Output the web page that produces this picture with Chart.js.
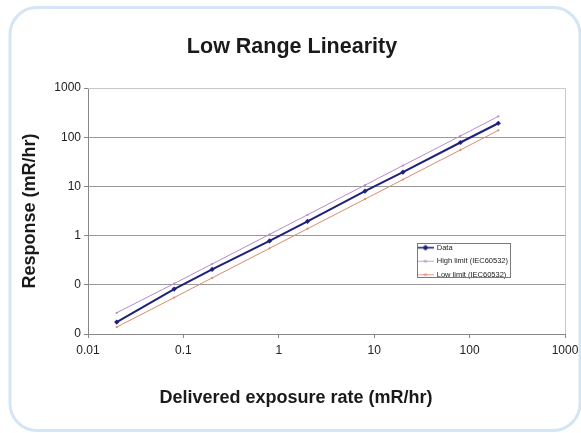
<!DOCTYPE html>
<html>
<head>
<meta charset="utf-8">
<script src="https://cdn.jsdelivr.net/npm/chart.js@4.4.1/dist/chart.umd.min.js"></script>
<style>
  html, body { margin: 0; padding: 0; background: #ffffff; }
  #wrap { width: 581px; height: 433px; position: relative; }
  canvas { display: block; }
</style>
</head>
<body>
<div id="wrap"><canvas id="c" width="581" height="433"></canvas></div>
<script>
// ---- data ----
const chartTitle = 'Low Range Linearity';
const xAxisTitle = 'Delivered exposure rate (mR/hr)';
const yAxisTitle = 'Response (mR/hr)';
const seriesNames = ['Data', 'High limit (IEC60532)', 'Low limit (IEC60532)'];
const deliveredRate = [0.02, 0.08, 0.2, 0.8, 2, 8, 20, 80, 200];
const responseData  = [0.0175, 0.082, 0.205, 0.78, 1.95, 8, 19.5, 78, 192];
const highLimit     = [0.027, 0.106, 0.265, 1.06, 2.65, 10.6, 26.5, 106, 265];
const lowLimit      = [0.0138, 0.055, 0.138, 0.55, 1.38, 5.5, 13.8, 55, 138];
const xTickValues = [0.01, 0.1, 1, 10, 100, 1000];
const xTickLabels = ['0.01', '0.1', '1', '10', '100', '1000'];
const yTickValues = [0.01, 0.1, 1, 10, 100, 1000];
const yTickLabels = ['0', '0', '1', '10', '100', '1000'];

const colData = '#1f1f7c';
const colHigh = '#b58ccc';
const colLow  = '#d88c6c';
const FONT = '"Liberation Sans", Arial, sans-serif';

function pts(ys) { return deliveredRate.map((x, i) => ({ x: x, y: ys[i] })); }

function legendIcon(color, lw, marker) {
  const cv = document.createElement('canvas');
  cv.width = 16; cv.height = 7;
  const g = cv.getContext('2d');
  g.strokeStyle = color; g.lineWidth = lw;
  g.beginPath(); g.moveTo(0, 3.5); g.lineTo(16, 3.5); g.stroke();
  g.fillStyle = color;
  if (marker === 'diamond') {
    g.beginPath(); g.moveTo(8, 0.5); g.lineTo(11, 3.5); g.lineTo(8, 6.5); g.lineTo(5, 3.5); g.closePath(); g.fill();
  } else {
    g.fillRect(6.5, 2.5, 3, 2);
  }
  return cv;
}
const icons = [legendIcon(colData, 1.6, 'diamond'), legendIcon(colHigh, 0.8, 'dash'), legendIcon(colLow, 0.8, 'dash')];

const framePlugin = {
  id: 'frame',
  beforeDraw(chart) {
    const ctx = chart.ctx;
    ctx.save();
    ctx.fillStyle = '#ffffff';
    ctx.fillRect(0, 0, chart.width, chart.height);
    ctx.strokeStyle = '#d4e5f5';
    ctx.lineWidth = 3;
    ctx.beginPath();
    ctx.roundRect(10, 7.5, 570, 423, 27);
    ctx.stroke();
    ctx.restore();
  },
  afterDatasetsDraw(chart) {
    const a = chart.chartArea, ctx = chart.ctx;
    ctx.save();
    ctx.strokeStyle = '#c8c8c8';
    ctx.lineWidth = 1;
    ctx.beginPath();
    ctx.moveTo(a.left, Math.round(a.top) + 0.5);
    ctx.lineTo(Math.round(a.right) + 0.5, Math.round(a.top) + 0.5);
    ctx.lineTo(Math.round(a.right) + 0.5, a.bottom);
    ctx.stroke();
    ctx.restore();
  },
  afterUpdate(chart) {
    const lg = chart.legend;
    if (!lg) return;
    const w = lg.width, h = 80;
    lg.left = 412; lg.top = 238; lg.right = lg.left + w; lg.bottom = lg.top + h;
  },
  afterDraw(chart) {
    const ctx = chart.ctx;
    ctx.save();
    ctx.strokeStyle = '#7a7a7a';
    ctx.lineWidth = 1;
    ctx.strokeRect(417.5, 243.5, 93, 34);
    ctx.fillStyle = '#1a1a1a';
    ctx.font = 'bold 18px ' + FONT;
    ctx.textAlign = 'center';
    ctx.textBaseline = 'middle';
    ctx.fillText(xAxisTitle, 296, 398);
    ctx.restore();
  }
};

new Chart(document.getElementById('c'), {
  type: 'line',
  data: {
    datasets: [
      { label: seriesNames[0], data: pts(responseData), borderColor: colData, backgroundColor: colData,
        borderWidth: 2, pointStyle: 'rectRot', pointRadius: 2.6, pointBorderWidth: 0, order: 1 },
      { label: seriesNames[1], data: pts(highLimit), borderColor: colHigh, backgroundColor: colHigh,
        borderWidth: 1, pointStyle: 'circle', pointRadius: 1.1, pointBorderWidth: 0, order: 2 },
      { label: seriesNames[2], data: pts(lowLimit), borderColor: colLow, backgroundColor: colLow,
        borderWidth: 1, pointStyle: 'circle', pointRadius: 1.1, pointBorderWidth: 0, order: 3 }
    ]
  },
  options: {
    responsive: false,
    animation: false,
    devicePixelRatio: 1,
    layout: { padding: { left: 19, right: 16, top: 0, bottom: 26 } },
    plugins: {
      tooltip: { enabled: false },
      title: {
        display: true, text: chartTitle, color: '#1a1a1a',
        font: { family: FONT, size: 21.5, weight: 'bold', lineHeight: 1.2 },
        padding: { top: 34.5, bottom: 27.7 }
      },
      legend: {
        display: true, position: 'chartArea', align: 'start',
        labels: {
          usePointStyle: true, pointStyleWidth: 15, padding: 6, color: '#222222',
          font: { family: FONT, size: 7.5 },
          generateLabels(chart) {
            const items = Chart.defaults.plugins.legend.labels.generateLabels(chart);
            items.forEach((it, i) => { it.pointStyle = icons[i]; });
            return items;
          }
        }
      }
    },
    scales: {
      x: {
        type: 'logarithmic', min: 0.01, max: 1000,
        afterBuildTicks(s) { s.ticks = xTickValues.map(v => ({ value: v })); },
        afterFit(s) { s.height = 73; s.paddingRight = 8; },
        ticks: { autoSkip: false, maxRotation: 0, padding: 5, color: '#222222',
          font: { family: FONT, size: 12 },
          callback(v, i) { return xTickLabels[i]; } },
        grid: { drawOnChartArea: false, drawTicks: true, tickLength: 4, color: '#888888', tickColor: '#888888' },
        border: { color: '#888888', width: 1 },
        title: { display: false, text: xAxisTitle }
      },
      y: {
        type: 'logarithmic', min: 0.01, max: 1000,
        afterBuildTicks(s) { s.ticks = yTickValues.map(v => ({ value: v })); },
        afterFit(s) { s.width = 69; },
        ticks: { autoSkip: false, padding: 3, color: '#222222',
          font: { family: FONT, size: 12 },
          callback(v, i) { return yTickLabels[i]; } },
        grid: { drawOnChartArea: true, drawTicks: true, tickLength: 4, color: '#999999', tickColor: '#888888', lineWidth: 1 },
        border: { color: '#888888', width: 1 },
        title: { display: true, text: yAxisTitle, color: '#1a1a1a', padding: { top: 0, bottom: 0 },
          font: { family: FONT, size: 18, weight: 'bold', lineHeight: 1.2 } }
      }
    }
  },
  plugins: [framePlugin]
});
</script>
</body>
</html>
